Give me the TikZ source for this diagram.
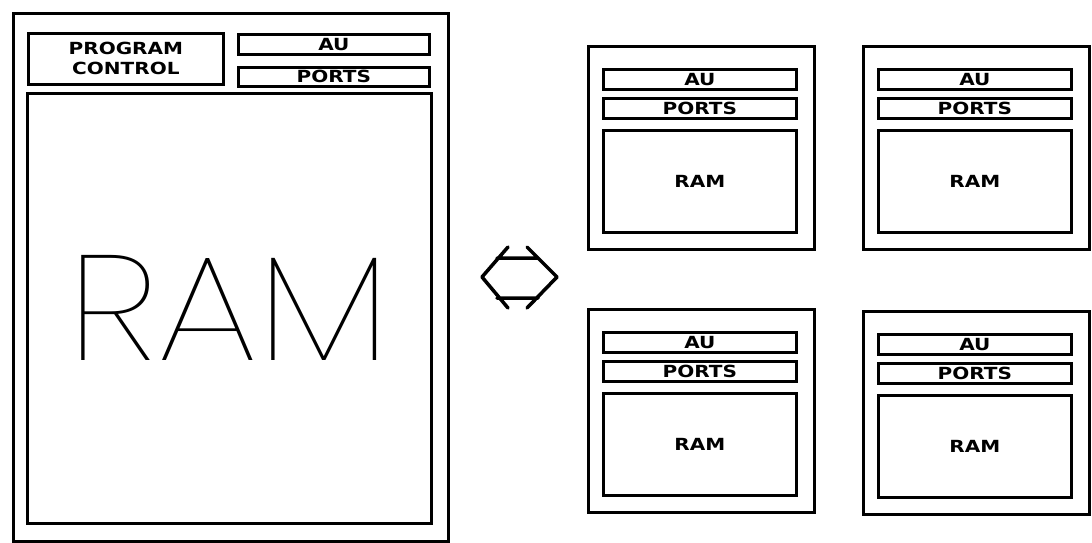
\documentclass[tikz,border=0pt]{standalone}
\usepackage{fontspec}
\newfontfamily\plotfont[FakeStretch=1.2]{DejaVu Sans}
\newfontfamily\thinfont[FakeStretch=1.12]{Poppins Thin}
\usetikzlibrary{positioning, calc}
\tikzset{
  frame/.style={draw, line width=1.6pt, inner sep=0pt, anchor=north west},
  bar/.style={frame, minimum width=3.86cm, minimum height=0.4cm,
    font=\plotfont\bfseries\fontsize{9.5}{11.4}\selectfont},
  unit/.style={frame, minimum width=4.52cm, minimum height=4.06cm},
  link/.style={line width=2pt, line cap=round, line join=round},
}

\begin{document}
\begin{tikzpicture}[x=0.02cm, y=-0.02cm]
  \useasboundingbox (0,0) rectangle (1092,542);
  % single large processor
  \node[frame, minimum width=8.7cm, minimum height=10.56cm] (sys) at (12,12) {};
  \node[bar, minimum width=3.9cm, minimum height=1.02cm, align=center] (sys-pc) at (27,32) {PROGRAM\\CONTROL};
  \node[bar, minimum width=3.82cm] (sys-au) at (237,33) {AU};
  \node[bar, minimum width=3.82cm, minimum height=0.38cm] (sys-ports) at (237,66) {PORTS};
  \node[frame, minimum width=8.08cm, minimum height=8.6cm,
    font=\thinfont\fontsize{85}{85}\selectfont] (sys-ram) at (26,92) {RAM};
  % double arrow
  \draw[link] (508,247) -- (482,277) -- (508,308)
    (527,247) -- (557,277) -- (527,308)
    (497,258) -- (538,258) (497,298) -- (538,298);
  % four small processors
  \foreach \n/\x/\y in {tl/587/45, tr/862/45, bl/587/308, br/862/310} {
    \node[unit] (\n) at (\x,\y) {};
    \node[bar] (\n-au) at (\x+15,\y+23) {AU};
    \node[bar] (\n-ports) at (\x+15,\y+52) {PORTS};
    \node[bar, minimum height=2.04cm] (\n-ram) at (\x+15,\y+84) {RAM};
  }
\end{tikzpicture}
\end{document}
